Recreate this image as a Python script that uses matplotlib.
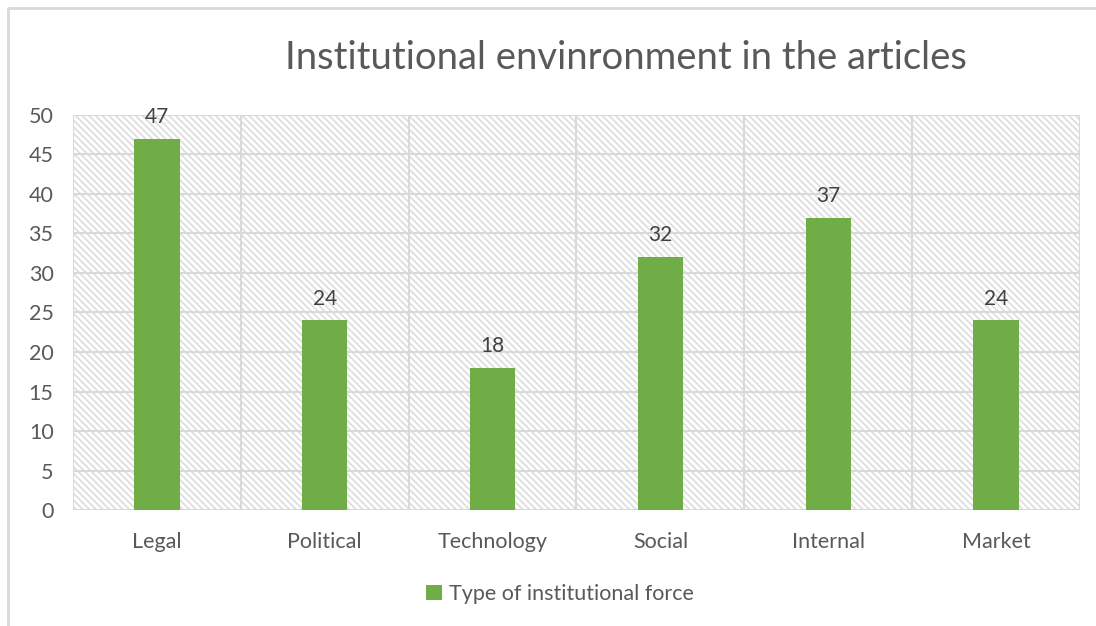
import numpy as np
import matplotlib
matplotlib.use("Agg")
from matplotlib import pyplot as plt, patches, lines

categories = ["Legal", "Political", "Technology", "Social", "Internal", "Market"]
values = [47, 24, 18, 32, 37, 24]
yticks = [0, 5, 10, 15, 20, 25, 30, 35, 40, 45, 50]
series_name = "Type of institutional force"

plt.rcParams['font.family'] = ['Lato', 'DejaVu Sans']
plt.rcParams['hatch.color'] = '#dcdcdc'
plt.rcParams['hatch.linewidth'] = 1.2
text_col = '#595959'
green = '#70ad47'

fig = plt.figure(figsize=(10.96, 6.26), dpi=100)
ax = fig.add_axes([0.0666, 0.1853, 0.9188, 0.631])

# border: only top and left visible
fig.add_artist(lines.Line2D([0.0075, 0.0075, 1.0], [0.0, 0.9872, 0.9872], transform=fig.transFigure,
                            color='#d9d9d9', lw=2))

x = np.arange(len(categories))
ax.set_xlim(-0.5, len(categories) - 0.5)
ax.set_ylim(0, 50)

# hatched background
ax.add_patch(patches.Rectangle((-0.5, 0), len(categories), 50, facecolor='white',
                               edgecolor='#dcdcdc', hatch='\\\\\\\\\\', lw=0, zorder=0))

for y in yticks:
    ax.axhline(y, color='#d9d9d9', lw=1.5, zorder=1)
for b in np.arange(-0.5, len(categories), 1.0):
    ax.axvline(b, color='#d9d9d9', lw=1.5, zorder=1)

bars = ax.bar(x, values, width=0.27, color=green, zorder=3, label=series_name)
for xi, v in zip(x, values):
    ax.text(xi, v + 1.5, str(v), ha='center', va='bottom', fontsize=15, color='#404040')

for s in ax.spines.values():
    s.set_visible(False)
ax.set_xticks(x)
ax.set_xticklabels(categories)
ax.set_yticks(yticks)
ax.tick_params(length=0, labelsize=15.5, colors=text_col, pad=16)
ax.tick_params(axis='y', pad=14)

fig.text(0.571, 0.908, "Institutional envinronment in the articles", ha='center', va='center',
         fontsize=27.5, color=text_col)

leg = fig.legend(handles=[bars], labels=[series_name], loc='center', bbox_to_anchor=(0.511, 0.051),
                 frameon=False, fontsize=15.5, handlelength=0.75, handleheight=0.75, handletextpad=0.3)
for t in leg.get_texts():
    t.set_color(text_col)

fig.savefig("out.png", dpi=100)
